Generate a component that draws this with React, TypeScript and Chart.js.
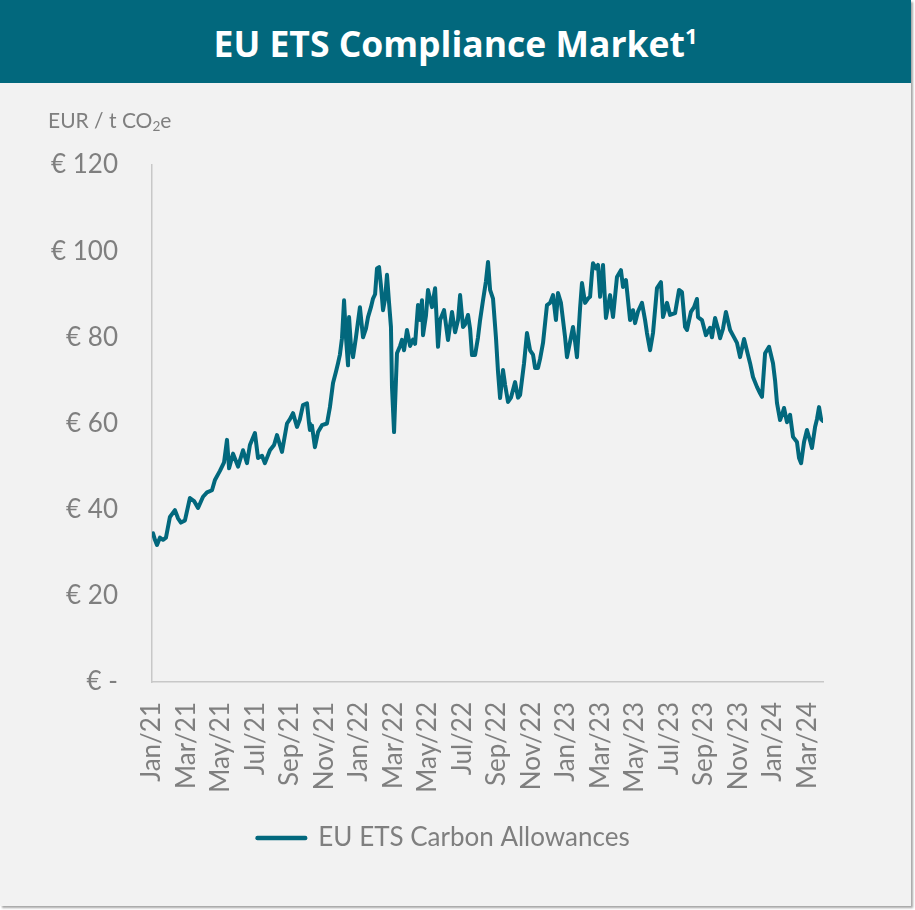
import React, { useEffect, useRef } from 'react';
import { Chart, registerables } from 'chart.js';

Chart.register(...registerables);

const TEAL = '#02687D';
const GRAY_TEXT = '#7f7f7f';
const FONT = 'Lato, "Open Sans", sans-serif';
const TITLE_FONT = '"Open Sans", Lato, sans-serif';

const titleText = 'EU ETS Compliance Market';
const titleNote = '1';
const seriesName = 'EU ETS Carbon Allowances';

// x tick labels every two months, positioned at months since Jan 2021
const monthLabels = ['Jan/21', 'Mar/21', 'May/21', 'Jul/21', 'Sep/21', 'Nov/21', 'Jan/22', 'Mar/22', 'May/22', 'Jul/22', 'Sep/22', 'Nov/22', 'Jan/23', 'Mar/23', 'May/23', 'Jul/23', 'Sep/23', 'Nov/23', 'Jan/24', 'Mar/24'];
const labelMonths = [0, 2, 4, 6, 8, 10, 12, 14, 16, 18, 20, 22, 24, 26, 28, 30, 32, 34, 36, 38];

const yTickValues = [0, 20, 40, 60, 80, 100, 120];

// time in months since 1 Jan 2021
const t = [0.06, 0.17, 0.29, 0.46, 0.64, 0.81, 1.04, 1.33, 1.51, 1.68, 1.91, 2.20, 2.44, 2.67, 2.96, 3.19, 3.48, 3.65, 3.94, 4.18, 4.35, 4.47, 4.70, 4.99, 5.28, 5.51, 5.68, 5.97, 6.15, 6.38, 6.55, 6.84, 7.08, 7.25, 7.54, 7.83, 8.00, 8.18, 8.41, 8.58, 8.76, 8.99, 9.11, 9.16, 9.28, 9.45, 9.63, 9.86, 10.15, 10.32, 10.50, 10.67, 10.79, 10.90, 11.02, 11.14, 11.25, 11.37, 11.43, 11.54, 11.66, 11.83, 12.06, 12.24, 12.41, 12.53, 12.70, 12.82, 12.94, 13.05, 13.17, 13.28, 13.40, 13.52, 13.63, 13.75, 13.86, 13.92, 14.04, 14.15, 14.21, 14.39, 14.50, 14.62, 14.79, 14.97, 15.14, 15.26, 15.43, 15.55, 15.66, 15.72, 15.89, 16.01, 16.24, 16.42, 16.59, 16.71, 16.94, 17.17, 17.40, 17.58, 17.75, 17.87, 18.04, 18.16, 18.33, 18.45, 18.56, 18.74, 18.91, 19.03, 19.20, 19.37, 19.49, 19.61, 19.78, 19.95, 20.07, 20.19, 20.36, 20.48, 20.65, 20.82, 21.06, 21.23, 21.35, 21.58, 21.75, 21.93, 22.10, 22.22, 22.39, 22.51, 22.68, 22.91, 23.09, 23.26, 23.43, 23.55, 23.72, 23.84, 23.96, 24.07, 24.25, 24.42, 24.54, 24.65, 24.83, 24.94, 25.12, 25.29, 25.41, 25.52, 25.58, 25.75, 25.87, 25.99, 26.16, 26.33, 26.57, 26.74, 26.97, 27.20, 27.32, 27.49, 27.73, 27.90, 28.02, 28.19, 28.42, 28.60, 28.71, 28.89, 29.06, 29.29, 29.52, 29.64, 29.87, 30.05, 30.34, 30.57, 30.74, 30.92, 31.03, 31.26, 31.44, 31.61, 31.67, 31.90, 32.13, 32.37, 32.48, 32.66, 32.83, 32.95, 33.12, 33.29, 33.53, 33.76, 33.93, 34.11, 34.34, 34.57, 34.69, 34.86, 35.09, 35.27, 35.38, 35.56, 35.79, 36.02, 36.14, 36.25, 36.43, 36.54, 36.66, 36.83, 37.01, 37.18, 37.41, 37.53, 37.65, 37.82, 37.99, 38.17, 38.28, 38.46, 38.57, 38.69, 38.81, 38.92];

// EUR / t CO2e
const price = [34.5, 33, 31.8, 33.5, 33, 33.5, 38.3, 39.9, 38, 37, 37.5, 42.7, 42, 40.4, 43, 44, 44.5, 46.9, 49, 51, 56.2, 49.6, 53, 50, 53.8, 50.8, 55, 57.8, 52, 52.5, 50.8, 53.8, 55, 57.3, 53.4, 60, 61, 62.4, 59.2, 61, 64.3, 64.7, 60, 58.5, 59.5, 54.5, 58, 59.6, 60, 63.8, 69.4, 72, 74, 76, 79.8, 88.6, 80, 73.5, 84.7, 78, 75.4, 80, 87, 80, 82, 84.7, 87, 89, 90, 96, 96.3, 92, 86.3, 89, 94.5, 88, 82.4, 68.5, 58, 70, 76.3, 78, 79.4, 77, 81.7, 78, 79.5, 78.5, 87.5, 84, 88.6, 80.5, 85, 91, 87, 91.4, 77.8, 84, 86.3, 79.4, 85.9, 81.2, 84, 89.8, 82.4, 83, 85.2, 82, 75.9, 75.9, 80, 84, 88.6, 93, 97.5, 91, 89, 80, 72, 65.9, 72.4, 69, 65, 66, 69.6, 66, 66.6, 74, 81, 77, 76, 72.9, 72.9, 75, 78.7, 87.5, 88, 89.8, 84, 90.3, 88, 84, 80, 75.4, 79, 82.4, 79, 75.4, 86.8, 92.6, 88, 89, 89.4, 94.9, 97.2, 96, 96.8, 89.4, 96.8, 84.5, 89.8, 84.7, 94, 95.6, 91.7, 93.3, 84, 86.3, 83.3, 86, 88, 84, 81, 77, 81, 91.4, 92.8, 84.7, 88, 85.2, 85.6, 91, 90.5, 82.4, 81.7, 85.9, 87, 88.9, 84.7, 84, 80.5, 82.2, 80, 84.5, 82, 79.8, 82, 85.9, 81.7, 80, 78.7, 75.4, 79.6, 75.9, 74, 70.8, 68.5, 67, 66.2, 76.3, 77.8, 74, 70, 64.8, 60.8, 62, 63.6, 60.3, 62, 56.9, 55.7, 52, 50.8, 55.7, 58.5, 56, 54.3, 59.2, 61, 63.8, 61, 60.6];

// shifts the bottom legend so it is centred like the original slide
const legendOffset = {
  id: 'legendOffset',
  afterLayout(chart: any) {
    const l = chart.legend;
    if (l) {
      l.left += 32;
      l.right += 32;
    }
  },
};

export default function App() {
  const canvasRef = useRef<HTMLCanvasElement | null>(null);

  useEffect(() => {
    document.body.style.margin = '0';
    const n = Math.min(t.length, price.length);
    const points = [];
    for (let i = 0; i < n; i++) points.push({ x: t[i], y: price[i] });

    const chart = new Chart(canvasRef.current as HTMLCanvasElement, {
      type: 'line',
      data: {
        datasets: [
          {
            label: seriesName,
            data: points,
            borderColor: TEAL,
            backgroundColor: TEAL,
            borderWidth: 4,
            pointRadius: 0,
            tension: 0,
            borderJoinStyle: 'round',
            borderCapStyle: 'round',
          },
        ],
      },
      plugins: [legendOffset],
      options: {
        animation: false,
        responsive: false,
        maintainAspectRatio: false,
        layout: { padding: { top: 165, right: 92, bottom: 49, left: 0 } },
        plugins: {
          legend: {
            position: 'bottom',
            labels: {
              color: GRAY_TEXT,
              font: { family: FONT, size: 26 },
              boxWidth: 48,
              boxHeight: 0.5,
              padding: 10,
            },
          },
          tooltip: { enabled: false },
        },
        scales: {
          x: {
            type: 'linear',
            min: 0,
            max: t[n - 1],
            grid: { display: false, drawTicks: false },
            border: { display: true, color: '#c8c8c8', width: 1.5 },
            afterBuildTicks: (s: any) => {
              s.ticks = labelMonths.map((value) => ({ value }));
            },
            afterFit: (s: any) => {
              s.height = 133;
            },
            ticks: {
              autoSkip: false,
              minRotation: 90,
              maxRotation: 90,
              padding: 20,
              color: GRAY_TEXT,
              font: { family: FONT, size: 26 },
              callback: (_v: any, i: number) => monthLabels[i],
            },
          },
          y: {
            min: 0,
            max: 120,
            grid: { display: false, drawTicks: false },
            border: { display: true, color: '#c8c8c8', width: 1.5 },
            afterBuildTicks: (s: any) => {
              s.ticks = yTickValues.map((value) => ({ value }));
            },
            afterFit: (s: any) => {
              s.width = 152;
            },
            ticks: {
              padding: 34,
              color: GRAY_TEXT,
              font: { family: FONT, size: 26 },
              callback: (v: any) => (Number(v) === 0 ? '€ -' : '€ ' + v),
            },
          },
        },
      },
    });
    return () => chart.destroy();
  }, []);

  return (
    <div style={{ position: 'relative', width: 915, height: 910, background: '#ffffff', overflow: 'hidden' }}>
      <div
        style={{
          position: 'absolute',
          left: 0,
          top: 0,
          width: 911,
          height: 906,
          background: '#f2f2f2',
          boxShadow: '2px 2px 2px rgba(0,0,0,0.35)',
        }}
      />
      <canvas
        ref={canvasRef}
        width={915}
        height={910}
        style={{ position: 'absolute', left: 0, top: 0, width: 915, height: 910 }}
      />
      <div
        style={{
          position: 'absolute',
          left: 0,
          top: 0,
          width: 911,
          height: 83,
          background: TEAL,
          color: '#ffffff',
          fontFamily: TITLE_FONT,
          fontWeight: 700,
          fontSize: 35.5,
          lineHeight: '83px',
          textAlign: 'center',
        }}
      >
        <span style={{ position: 'relative', top: 2 }}>
          {titleText}
          <sup style={{ fontSize: '0.62em', verticalAlign: '0.6em', lineHeight: 0 }}>{titleNote}</sup>
        </span>
      </div>
      <div
        style={{
          position: 'absolute',
          left: 48,
          top: 109,
          fontFamily: FONT,
          fontSize: 21,
          lineHeight: 1,
          color: GRAY_TEXT,
          whiteSpace: 'nowrap',
        }}
      >
        EUR / t CO<sub style={{ fontSize: '0.65em', verticalAlign: '-0.25em', lineHeight: 0 }}>2</sub>e
      </div>
    </div>
  );
}
